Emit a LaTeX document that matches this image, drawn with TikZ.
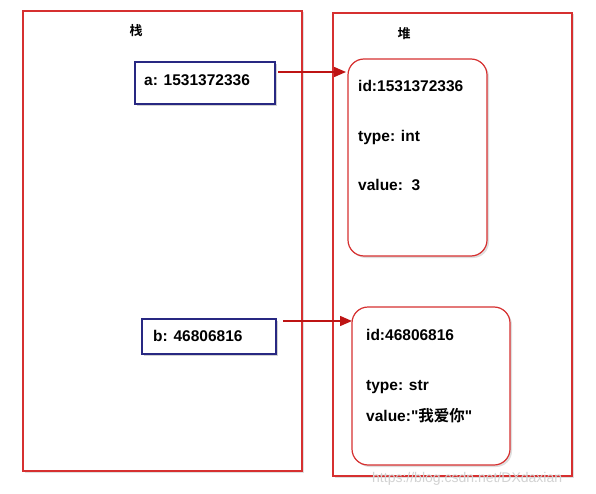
\documentclass[tikz,border=0pt]{standalone}
\usepackage{fontspec}
\setmainfont{Liberation Sans}
\newfontfamily\qf{Liberation Sans}
\newfontfamily\cjk{Noto Sans CJK SC}[BoldFont={Noto Sans CJK SC Bold}]
\usetikzlibrary{arrows.meta,shadows}
\definecolor{frred}{RGB}{214,48,48}
\definecolor{boxblue}{RGB}{40,40,130}
\definecolor{arrred}{RGB}{190,20,20}
\tikzset{
  frame/.style={draw=frred,fill=white,line width=1.2pt,drop shadow={shadow xshift=1.5pt,shadow yshift=-1.5pt,opacity=0.25,fill=gray}},
  varbox/.style={draw=boxblue,fill=white,line width=1.3pt,drop shadow={shadow xshift=2pt,shadow yshift=-2pt,opacity=0.35,fill=gray}},
  objbox/.style={draw=frred,fill=white,line width=1.2pt,rounded corners=16pt,drop shadow={shadow xshift=2pt,shadow yshift=-2pt,opacity=0.25,fill=gray}},
  txt/.style={anchor=base west,inner sep=0pt,font=\fontsize{15.5}{18}\selectfont\bfseries},
  ttl/.style={inner sep=0pt,font=\fontsize{13}{15}\selectfont\cjk\bfseries},
  ptr/.style={draw=arrred,line width=1.5pt,-{Triangle[length=12pt,width=10pt]}}
}
\begin{document}
\begin{tikzpicture}[x=1pt,y=-1pt]
\useasboundingbox[fill=white] (0,0) rectangle (596,494);
% frames
\path[frame] (23,11) rectangle (302,471);
\path[frame] (333,13) rectangle (572,476);
\node[ttl] (stk) at (136,31) {栈};
\node[ttl] (hp) at (404,34) {堆};
% variable boxes
\path[varbox] (135,62) rectangle (275,104);
\coordinate (aR) at (278,72);
\node[txt] (atxt) at (144,86) {a: 1531372336};
\path[varbox] (142,319) rectangle (276,354);
\coordinate (bR) at (283,321);
\node[txt] (btxt) at (153,341) {b: 46806816};
% object boxes
\path[objbox] (348,59) rectangle (487,256);
\coordinate (o1L) at (346,72);
\node[txt] (i1) at (358,92) {id:1531372336};
\node[txt] (t1) at (358,142) {type: int};
\node[txt] (v1) at (358,191) {value:\ \ 3};
\path[objbox] (352,307) rectangle (510,465);
\coordinate (o2L) at (352,321);
\node[txt] (i2) at (366,340) {id:46806816};
\node[txt] (t2) at (366,390) {type: str};
\node[txt] (v2) at (366,421) {value:{\qf\bfseries "}{\cjk\bfseries 我爱你}{\qf\bfseries "}};
% pointers
\draw[ptr] (aR) -- (o1L);
\draw[ptr] (bR) -- (o2L);
% watermark
\node[anchor=base west,inner sep=0pt,text=gray!35,font=\fontsize{14}{16}\selectfont] (wm) at (372,482) {https://blog.csdn.net/DXdaxian};
\end{tikzpicture}
\end{document}
